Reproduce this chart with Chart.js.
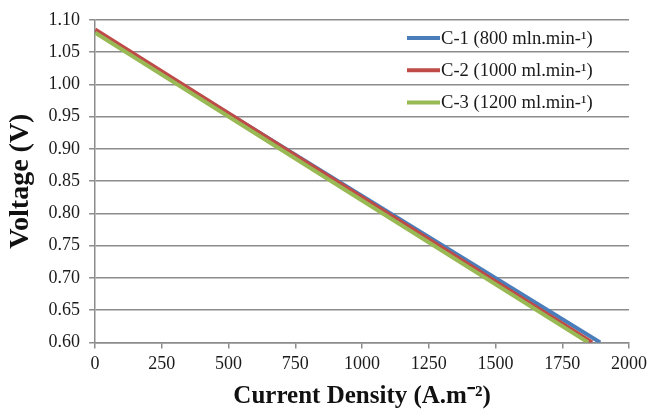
<!DOCTYPE html>
<html>
<head>
<meta charset="utf-8">
<script src="https://cdn.jsdelivr.net/npm/chart.js@4"></script>
<style>
  html, body { margin: 0; padding: 0; background: #fff; }
  #wrap { width: 652px; height: 412px; }
</style>
</head>
<body>
<div id="wrap"><canvas id="chart" width="652" height="412"></canvas></div>
<script>
// series data
const seriesLabels = ['C-1 (800 mln.min-\u00b9)', 'C-2 (1000 ml.min-\u00b9)', 'C-3 (1200 ml.min-\u00b9)'];
const seriesColors = ['#4a7ebb', '#be4b48', '#98b954'];
const c1Current = [0, 1000, 1892];
const c1Voltage = [1.082, 0.827, 0.600];
const c2Current = [0, 1000, 1862];
const c2Voltage = [1.085, 0.825, 0.600];
const c3Current = [0, 1000, 1847];
const c3Voltage = [1.080, 0.820, 0.600];

const serif = "'Liberation Serif', 'Times New Roman', serif";
const gridGray = '#8c8c8c';

function pts(xs, ys) {
  return xs.map((x, i) => ({ x: x, y: ys[i] }));
}
const series = [[c1Current, c1Voltage], [c2Current, c2Voltage], [c3Current, c3Voltage]];

// legend drawn inside the plot, top-right
const insideLegend = {
  id: 'insideLegend',
  afterDatasetsDraw(chart) {
    const ctx = chart.ctx;
    const ds = chart.data.datasets;
    ctx.save();
    ctx.font = '18.6px ' + serif;
    ctx.textBaseline = 'middle';
    ds.forEach((d, i) => {
      const y = 38 + i * 32.2;
      ctx.strokeStyle = d.borderColor;
      ctx.lineWidth = 4;
      ctx.beginPath();
      ctx.moveTo(407, y);
      ctx.lineTo(440, y);
      ctx.stroke();
      ctx.fillStyle = '#1a1a1a';
      ctx.fillText(d.label, 441, y + 1);
    });
    ctx.restore();
  }
};

new Chart(document.getElementById('chart'), {
  type: 'line',
  data: {
    datasets: series.map((s, i) => ({
      label: seriesLabels[i],
      data: pts(s[0], s[1]),
      borderColor: seriesColors[i],
      backgroundColor: seriesColors[i],
      borderWidth: 4,
      pointRadius: 0,
      tension: 0,
      order: 3 - i
    }))
  },
  options: {
    responsive: false,
    animation: false,
    layout: { padding: { top: 18, right: 13, left: 4, bottom: 0 } },
    plugins: { legend: { display: false }, tooltip: { enabled: false } },
    scales: {
      x: {
        type: 'linear',
        min: 0, max: 2000,
        ticks: { stepSize: 250, color: '#1a1a1a', font: { family: serif, size: 18 }, padding: 5,
          callback: v => String(v) },
        grid: { drawOnChartArea: false, drawTicks: true, tickLength: 6, color: gridGray, lineWidth: 1.5 },
        border: { color: gridGray, width: 1.5 },
        title: { display: true, text: 'Current Density (A.m\u207b\u00b2)', color: '#111',
          font: { family: serif, size: 25, weight: 'bold' }, padding: { top: 2, bottom: 0 } }
      },
      y: {
        min: 0.6, max: 1.1,
        ticks: { stepSize: 0.05, color: '#1a1a1a', font: { family: serif, size: 18 }, padding: 9,
          callback: v => v.toFixed(2) },
        grid: { color: gridGray, lineWidth: 1.5, tickLength: 6 },
        border: { color: gridGray, width: 1.5 },
        title: { display: true, text: 'Voltage (V)', color: '#111',
          font: { family: serif, size: 28, weight: 'bold' }, padding: { top: 0, bottom: 2 } }
      }
    }
  },
  plugins: [insideLegend]
});
</script>
</body>
</html>
